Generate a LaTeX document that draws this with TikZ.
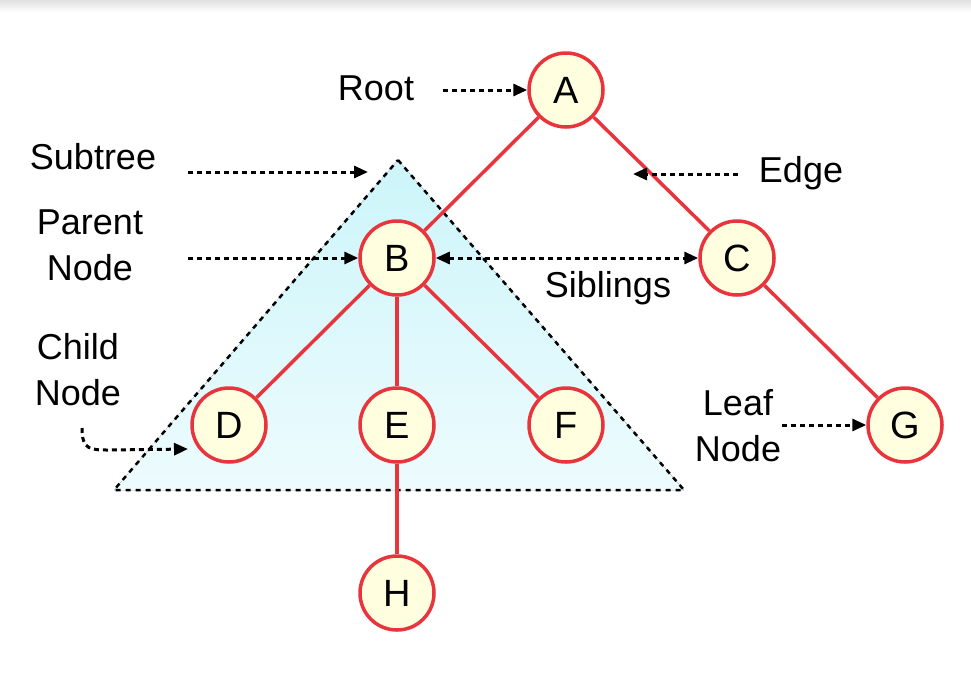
\documentclass[tikz,border=0pt]{standalone}
\usepackage{fontspec}
\setmainfont{Liberation Sans}
\usetikzlibrary{arrows.meta}
\definecolor{edgered}{HTML}{E8343C}
\definecolor{nodefill}{HTML}{FFFFE0}
\definecolor{subfill}{HTML}{CCF5FA}
\pgfdeclarelayer{bg}
\pgfdeclarelayer{edges}
\pgfsetlayers{bg,edges,main}
\tikzset{
  tnode/.style={circle, draw=edgered, line width=3.5pt, fill=nodefill, minimum size=74pt, inner sep=0pt,
    font=\fontsize{38}{44}\selectfont},
  lbl/.style={font=\fontsize{36}{46}\selectfont, align=center, inner sep=0pt},
  tedge/.style={edgered, line width=3.5pt},
  ptr/.style={black, line width=3pt, dash pattern=on 5pt off 4pt, -{Triangle[length=14pt,width=12pt]}},
  dptr/.style={black, line width=3pt, dash pattern=on 5pt off 4pt, {Triangle[length=14pt,width=12pt]}-{Triangle[length=14pt,width=12pt]}},
  subtri/.style={draw=black, line width=2.5pt, dash pattern=on 5pt off 5pt, top color=subfill, bottom color=subfill!35},
}
\begin{document}
\begin{tikzpicture}[x=1pt,y=-1pt]
\useasboundingbox (0,0) rectangle (971,678);
% tree nodes
\node[tnode] (A) at (566,90) {A};
\node[tnode] (B) at (397,258) {B};
\node[tnode] (C) at (737,258) {C};
\node[tnode] (D) at (229,425) {D};
\node[tnode] (E) at (397,425) {E};
\node[tnode] (F) at (566,425) {F};
\node[tnode] (G) at (905,425) {G};
\node[tnode] (H) at (397,593) {H};
\begin{pgfonlayer}{bg}
\fill[white] (0,0) rectangle (971,678);
\shade[top color=black!12, bottom color=white] (0,0) rectangle (971,12);
\coordinate (t1) at (398,160);
\coordinate (t2) at (684,490);
\coordinate (t3) at (114,490);
\filldraw[subtri] (t1) -- (t2) -- (t3) -- cycle;
\end{pgfonlayer}
\begin{pgfonlayer}{edges}
\draw[tedge] (A) -- (B);
\draw[tedge] (A) -- (C);
\draw[tedge] (B) -- (D);
\draw[tedge] (B) -- (E);
\draw[tedge] (B) -- (F);
\draw[tedge] (C) -- (G);
\draw[tedge] (E) -- (H);
\end{pgfonlayer}
% labels
\node[lbl] (root) at (376,88) {Root};
\node[lbl] (subtree) at (93,157) {Subtree};
\node[lbl] (edge) at (801,173) {Edge};
\node[lbl] (parent) at (90,245) {Parent\\Node};
\node[lbl] (sib) at (608,288) {Siblings};
\node[lbl] (child) at (78,370) {Child\\Node};
\node[lbl] (leaf) at (738,426) {Leaf\\Node};
% pointer coordinates
\coordinate (rs) at (443,90);
\coordinate (ss) at (188,172);
\coordinate (se) at (368,172);
\coordinate (es) at (738,174);
\coordinate (ee) at (633,174);
\coordinate (ps) at (188,258);
\coordinate (ls) at (782,425);
\coordinate (cs) at (82,428);
\coordinate (ce) at (188,449);
% pointers
\draw[ptr] (rs) -- (A.west);
\draw[ptr] (ss) -- (se);
\draw[ptr] (es) -- (ee);
\draw[ptr] (ps) -- (B.west);
\draw[dptr] (B.east) -- (C.west);
\draw[ptr] (ls) -- (G.west);
\draw[ptr] (cs) .. controls (82,450) and (90,450) .. (110,450) -- (ce);
\end{tikzpicture}
\end{document}
